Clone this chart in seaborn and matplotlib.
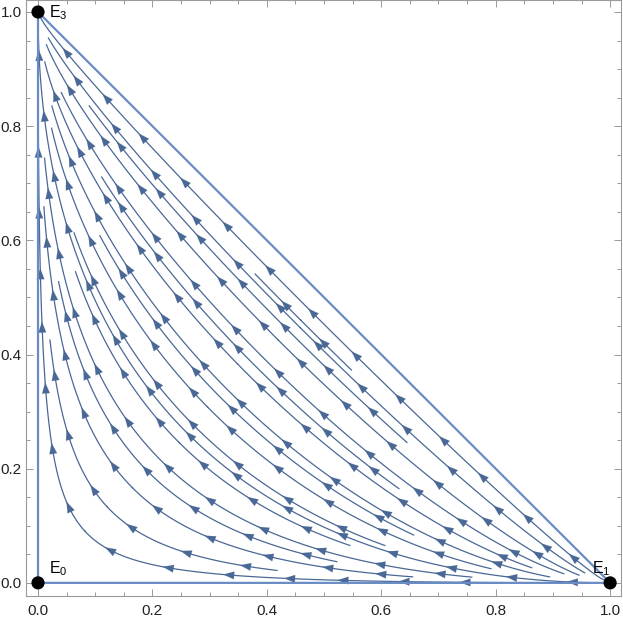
import numpy as np
import matplotlib
matplotlib.use('Agg')
import matplotlib.pyplot as plt
from matplotlib.patches import FancyArrowPatch
import seaborn as sns

# ---------------------------
# Datos
# ---------------------------
# equilibrios (vertices del simplex)
eq_x = [0.0, 1.0, 0.0]
eq_y = [0.0, 0.0, 1.0]
eq_labels = ['E$_0$', 'E$_1$', 'E$_3$']

# pagos de las tres estrategias: x, z = 1-x-y, y
payoff = [0.0, 1.0, 2.0]

# puntos semilla de las lineas de flujo
seed_a_x = [0.51] * 11
seed_a_y = [0.443, 0.396, 0.338, 0.285, 0.236, 0.186, 0.14, 0.093, 0.053, 0.026, 0.005]
seed_b_x = [0.024, 0.045, 0.07, 0.10, 0.13, 0.17, 0.21, 0.25, 0.29, 0.32,
            0.36, 0.40, 0.44, 0.48, 0.52, 0.56]
seed_b_y = [0.4] * 16

ticks = [0.0, 0.2, 0.4, 0.6, 0.8, 1.0]
tick_labels = ['0.0', '0.2', '0.4', '0.6', '0.8', '1.0']

# ---------------------------
# Campo vectorial (dinamica del replicador)
# ---------------------------
g = np.linspace(0, 1, 301)
X, Y = np.meshgrid(g, g)
Z = 1 - X - Y
fbar = payoff[0] * X + payoff[1] * Z + payoff[2] * Y
U = X * (payoff[0] - fbar)
V = Y * (payoff[2] - fbar)
outside = Z < -1e-9
U = np.ma.array(U, mask=outside)
V = np.ma.array(V, mask=outside)

seeds = np.column_stack([seed_a_x + seed_b_x, seed_a_y + seed_b_y])

# ---------------------------
# Grafico
# ---------------------------
sns.set_style('ticks')
plt.rcParams['font.family'] = ['Liberation Sans', 'DejaVu Sans']
plt.rcParams['mathtext.fontset'] = 'custom'
plt.rcParams['mathtext.rm'] = 'Liberation Sans'

fig = plt.figure(figsize=(6.23, 6.18), dpi=100)
ax = fig.add_axes([26 / 623, 22 / 618, 595 / 623, 596 / 618])

stream_color = '#4a6896'
edge_color = '#6a8cc4'

sp = ax.streamplot(X, Y, U, V, start_points=seeds, density=2.5,
                   color=stream_color, linewidth=0.9, arrowstyle='-',
                   integration_direction='both', broken_streamlines=True)

# varias flechas por linea (streamplot solo pone una)
segs = sp.lines.get_segments()
trajs = []
for s in segs:
    s = np.asarray(s)
    if trajs and np.allclose(trajs[-1][-1], s[0]):
        trajs[-1].extend(list(s[1:]))
    else:
        trajs.append(list(s))

spacing = 0.105
for t in trajs:
    t = np.array(t)
    if len(t) < 2:
        continue
    d = np.hypot(np.diff(t[:, 0]), np.diff(t[:, 1]))
    cum = np.concatenate([[0], np.cumsum(d)])
    total = cum[-1]
    if total < 0.06:
        continue
    n = max(int(total // spacing), 1)
    start = (total - n * spacing) / 2 + spacing / 2
    for k in range(n):
        sk = start + k * spacing
        i = np.searchsorted(cum, sk)
        i = min(max(i, 1), len(t) - 1)
        head = t[i]
        j = i - 1
        while j > 0 and np.hypot(*(head - t[j])) < 0.004:
            j -= 1
        tail = t[j]
        ax.add_patch(FancyArrowPatch(tail, head,
                                     arrowstyle='-|>,head_length=0.62,head_width=0.22',
                                     mutation_scale=12.5, color=stream_color, lw=0.1,
                                     shrinkA=0, shrinkB=0, zorder=2))

# bordes invariantes del simplex
ax.plot(eq_x + [eq_x[0]], eq_y + [eq_y[0]], color=edge_color, lw=1.6,
        solid_capstyle='butt', zorder=3)

sns.scatterplot(x=eq_x, y=eq_y, color='black', s=90, edgecolor='none',
                zorder=6, clip_on=False, ax=ax, legend=False)

offsets = [(8, 7), (-6, 7), (8, -3.6)]
aligns = ['left', 'center', 'left']
for xx, yy, lab, off, ha in zip(eq_x, eq_y, eq_labels, offsets, aligns):
    ax.annotate(lab, (xx, yy), xytext=off, textcoords='offset points',
                ha=ha, va='baseline', fontsize=11.5, color='black', zorder=7)

ax.set_xlim(-0.021, 1.019)
ax.set_ylim(-0.023, 1.021)
ax.set_xticks(ticks)
ax.set_xticklabels(tick_labels)
ax.set_yticks(ticks)
ax.set_yticklabels(tick_labels)
ax.set_xticks(np.arange(0, 1.001, 0.05), minor=True)
ax.set_yticks(np.arange(0, 1.001, 0.05), minor=True)
ax.tick_params(which='both', direction='in', top=True, right=True,
               color='#9a9a9a', width=0.7, labelsize=11, labelcolor='#222222')
ax.tick_params(which='major', length=5)
ax.tick_params(which='minor', length=3)
ax.tick_params(axis='x', which='major', pad=6)
ax.tick_params(axis='y', which='major', pad=3)
for s in ax.spines.values():
    s.set_color('#9a9a9a')
    s.set_linewidth(0.8)

fig.savefig('out.png', dpi=100)
